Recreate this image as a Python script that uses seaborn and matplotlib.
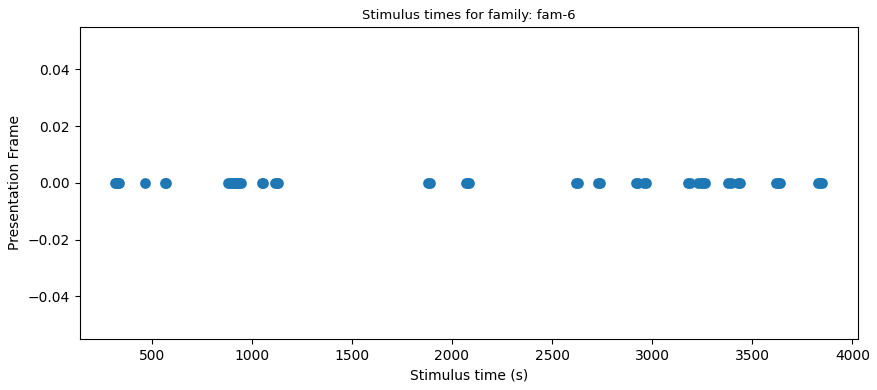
import numpy as np
import pandas as pd
import matplotlib
matplotlib.use("Agg")
import matplotlib.pyplot as plt
import seaborn as sns

# stimulus onset times (s)
stim_times = [318, 322, 326, 330, 335,
              468,
              565, 570,
              880, 890, 900, 910, 918, 925, 935, 945,
              1050, 1058,
              1115, 1125, 1130,
              1880, 1888,
              2070, 2078, 2085,
              2620, 2628,
              2730, 2740,
              2920, 2930, 2960, 2970,
              3180, 3190, 3230, 3245, 3255, 3265,
              3380, 3395, 3430, 3440,
              3620, 3630, 3640,
              3830, 3840, 3850]
frames = [0] * len(stim_times)
family = "fam-6"

df = pd.DataFrame({"time": stim_times, "frame": frames})

fig, ax = plt.subplots(figsize=(8.77, 3.9), dpi=100)
fig.subplots_adjust(left=0.091, right=0.978, top=0.931, bottom=0.131)

sns.scatterplot(data=df, x="time", y="frame", ax=ax, color="#1f77b4",
                s=60, linewidth=0, alpha=1)

ax.set_title(f"Stimulus times for family: {family}", fontsize=9.5)
ax.set_xlabel("Stimulus time (s)")
ax.set_ylabel("Presentation Frame")

fig.savefig("out.png", dpi=100)
